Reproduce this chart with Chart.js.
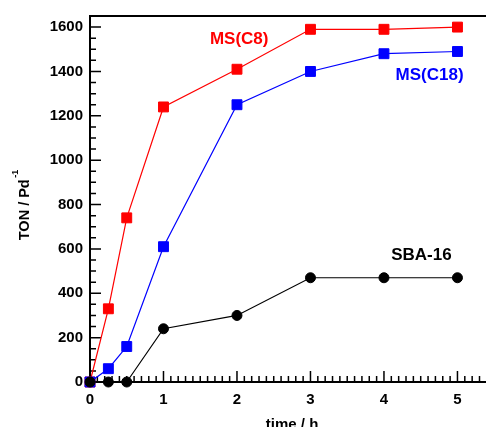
<!DOCTYPE html>
<html><head><meta charset="utf-8">
<script src="https://cdn.jsdelivr.net/npm/chart.js@4"></script>
<style>html,body{margin:0;padding:0;background:#fff;overflow:hidden;width:486px;height:427px}
canvas{display:block}</style></head>
<body><canvas id="c" width="500" height="427"></canvas>
<script>
// ---- data ----
const timeH = [0, 0.25, 0.5, 1, 2, 3, 4, 5];
const msC8  = [0, 330, 740, 1240, 1410, 1590, 1590, 1600];
const msC18 = [0, 60, 160, 610, 1250, 1400, 1480, 1490];
const sba16 = [0, 0, 0, 240, 300, 470, 470, 470];
const xTicks = [0, 1, 2, 3, 4, 5];
const yTicks = [0, 200, 400, 600, 800, 1000, 1200, 1400, 1600];
const seriesNames = ['MS(C8)', 'MS(C18)', 'SBA-16'];
const xTitle = 'time / h';
const yTitleMain = 'TON / Pd';
const yTitleSup = '-1';

const FONT = "'Liberation Sans', Arial, sans-serif";
const pts = arr => timeH.map((t, i) => ({x: t, y: arr[i]}));

const decor = {
  id: 'decor',
  beforeDatasetsDraw(chart, args, opts) {
    const {ctx, chartArea: a, scales: {x, y}} = chart;
    ctx.save();
    ctx.strokeStyle = '#000';
    ctx.lineWidth = 2;
    ctx.beginPath();
    ctx.moveTo(a.left - 1, a.top);
    ctx.lineTo(chart.width, a.top);
    ctx.stroke();
    ctx.lineWidth = 1.5;
    ctx.beginPath();
    for (let i = 0; i * 50 <= y.max; i++) {
      const v = i * 50;
      const len = (v % 200 === 0) ? 11 : 6;
      const py = y.getPixelForValue(v);
      ctx.moveTo(a.left, py);
      ctx.lineTo(a.left + len, py);
    }
    for (let i = 0; i / 10 <= x.max + 1e-9; i++) {
      const px = x.getPixelForValue(i / 10);
      const len = (i % 10 === 0) ? 11 : 6;
      ctx.moveTo(px, a.bottom);
      ctx.lineTo(px, a.bottom - len);
    }
    ctx.stroke();
    ctx.restore();
  },
  afterDatasetsDraw(chart, args, opts) {
    const {ctx, chartArea: a, scales: {x, y}} = chart;
    ctx.save();
    ctx.fillStyle = '#000';
    // x title
    ctx.font = 'bold 15px ' + FONT;
    ctx.textAlign = 'center';
    ctx.textBaseline = 'alphabetic';
    ctx.fillText(xTitle, x.getPixelForValue(2.75), 429);
    // y title with superscript
    ctx.save();
    ctx.translate(28.5, 205);
    ctx.rotate(-Math.PI / 2);
    ctx.textAlign = 'left';
    ctx.font = 'bold 14.5px ' + FONT;
    const wMain = ctx.measureText(yTitleMain).width;
    ctx.font = 'bold 9px ' + FONT;
    const wSup = ctx.measureText(yTitleSup).width;
    const start = -(wMain + 1.5 + wSup) / 2;
    ctx.font = 'bold 14.5px ' + FONT;
    ctx.fillText(yTitleMain, start, 0);
    ctx.font = 'bold 9px ' + FONT;
    ctx.fillText(yTitleSup, start + wMain + 1.5, -11);
    ctx.restore();
    // series labels
    ctx.font = 'bold 17px ' + FONT;
    ctx.textAlign = 'center';
    opts.labels.forEach(l => {
      ctx.fillStyle = l.color;
      ctx.fillText(l.text, x.getPixelForValue(l.x), y.getPixelForValue(l.y));
    });
    ctx.restore();
  }
};

new Chart(document.getElementById('c'), {
  type: 'line',
  data: {
    datasets: [
      {label: seriesNames[2], data: pts(sba16), borderColor: '#000', backgroundColor: '#000',
       pointStyle: 'circle', pointRadius: 5, pointBorderWidth: 1, borderWidth: 1.2, clip: false},
      {label: seriesNames[1], data: pts(msC18), borderColor: '#0000ff', backgroundColor: '#0000ff',
       pointStyle: 'rect', pointRadius: 7, pointBorderWidth: 1, borderWidth: 1.2, clip: false},
      {label: seriesNames[0], data: pts(msC8), borderColor: '#ff0000', backgroundColor: '#ff0000',
       pointStyle: 'rect', pointRadius: 7, pointBorderWidth: 1, borderWidth: 1.2, clip: false}
    ]
  },
  options: {
    responsive: false,
    animation: false,
    devicePixelRatio: 1,
    layout: {padding: {top: 14, right: 3, left: 0, bottom: 0}},
    elements: {line: {tension: 0}, point: {hoverRadius: 7}},
    plugins: {
      legend: {display: false},
      tooltip: {enabled: false},
      decor: {
        labels: [
          {text: seriesNames[0], color: '#ff0000', x: 2.03, y: 1526},
          {text: seriesNames[1], color: '#0000ff', x: 4.62, y: 1362},
          {text: seriesNames[2], color: '#000000', x: 4.51, y: 548}
        ]
      }
    },
    scales: {
      x: {
        type: 'linear', min: 0, max: 5.47,
        grid: {display: false, drawTicks: false},
        border: {display: true, color: '#000', width: 2},
        ticks: {color: '#000', font: {family: FONT, size: 15, weight: 'bold'}, padding: 9, maxRotation: 0,
                callback: v => String(v)},
        afterBuildTicks: s => { s.ticks = xTicks.map(v => ({value: v})); },
        afterFit: s => { s.height = 45; }
      },
      y: {
        type: 'linear', min: 0, max: 1650,
        grid: {display: false, drawTicks: false},
        border: {display: true, color: '#000', width: 2},
        ticks: {color: '#000', font: {family: FONT, size: 15, weight: 'bold'}, padding: 7,
                callback: v => String(v)},
        afterBuildTicks: s => { s.ticks = yTicks.map(v => ({value: v})); },
        afterFit: s => { s.width = 90; }
      }
    }
  },
  plugins: [decor]
});
</script>
</body></html>
